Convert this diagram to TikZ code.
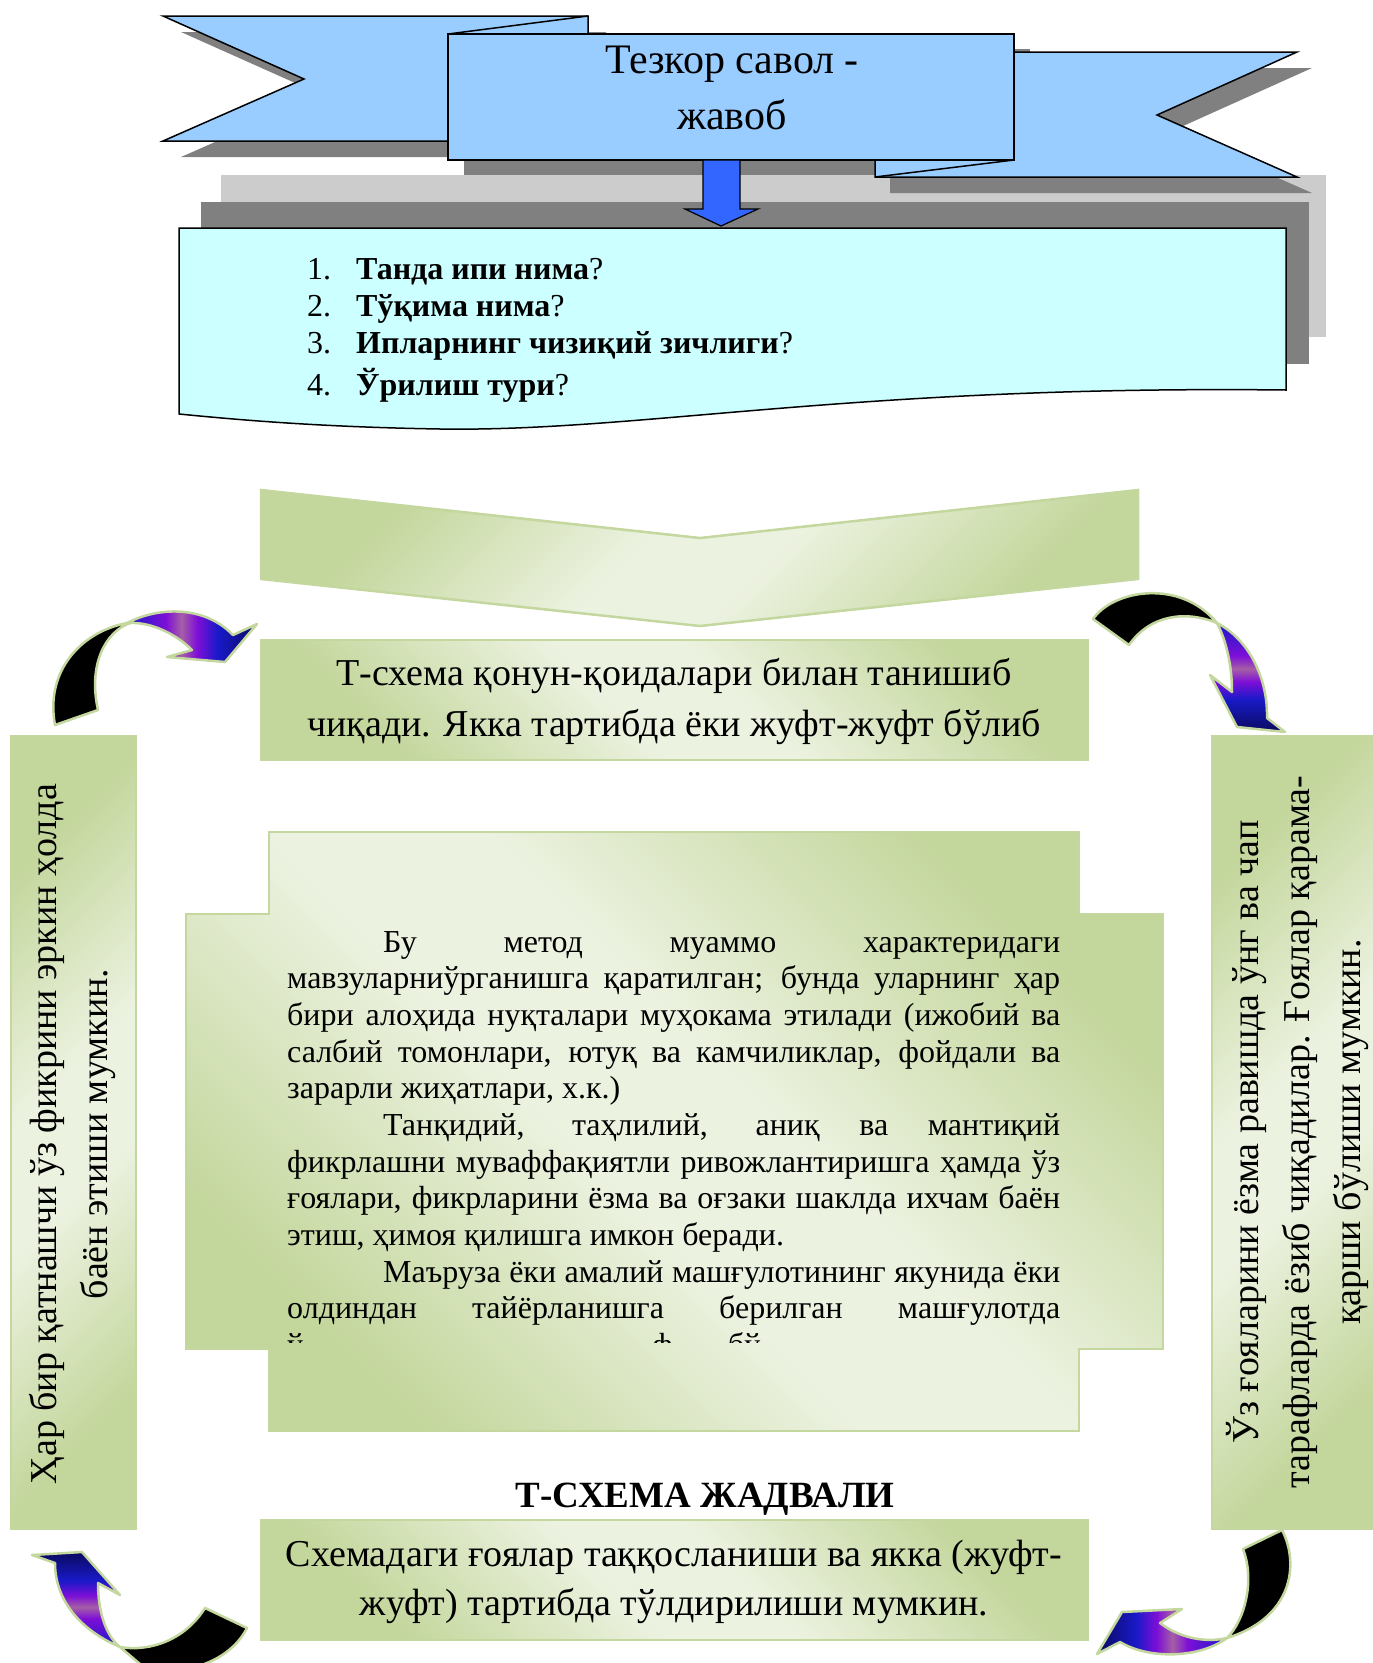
\documentclass[tikz,border=0pt]{standalone}
\usepackage{fontspec}
\setmainfont{Liberation Serif}
\definecolor{ribbon}{RGB}{153,204,255}
\definecolor{cyanbox}{RGB}{204,255,255}
\definecolor{arrowblue}{RGB}{51,102,255}
\definecolor{lgray}{RGB}{204,204,204}
\definecolor{dgray}{RGB}{128,128,128}
\definecolor{gdark}{RGB}{195,214,155}
\definecolor{glight}{RGB}{236,242,224}
\definecolor{gborder}{RGB}{196,215,158}
\definecolor{ablue}{RGB}{25,25,200}
\definecolor{apurple}{RGB}{125,15,215}
\definecolor{apink}{RGB}{165,95,165}
\definecolor{anavy}{RGB}{10,10,95}
\pgfdeclarehorizontalshading{greenrefl}{100bp}{color(0bp)=(gdark); color(25bp)=(gdark); color(45bp)=(glight); color(55bp)=(glight); color(75bp)=(gdark); color(100bp)=(gdark)}
\pgfdeclarehorizontalshading{arrowshade}{100bp}{color(0bp)=(ablue); color(25bp)=(ablue); color(40bp)=(apurple); color(46bp)=(apink); color(52bp)=(apurple); color(60bp)=(ablue); color(75bp)=(anavy); color(100bp)=(anavy)}
\newcommand{\fsbody}{\fontsize{32}{37}\selectfont}
\newcommand{\fsbox}{\fontsize{38}{50}\selectfont}
\newcommand{\fstitle}{\fontsize{42}{55}\selectfont}
\newcommand{\jl}[1]{\makebox[773pt][s]{#1}}
\newcommand{\jli}[1]{\makebox[677pt][s]{#1}}
\tikzset{
  greenbox/.style={shade, shading=greenrefl, draw=gborder, line width=2.5pt},
  ribbonpart/.style={fill=ribbon, draw=black, line width=1.5pt, line join=miter},
  shadowpart/.style={fill=dgray, draw=none},
  docbox/.style={fill=cyanbox, draw=black, line width=1.5pt},
  blockarrow/.style={fill=arrowblue, draw=black, line width=1.2pt},
  arrowback/.style={fill=black, draw=gborder, line width=2.5pt, line join=round},
  arrowfront/.style={shade, shading=arrowshade, draw=gborder, line width=2.5pt, line join=round},
  titletext/.style={anchor=base, inner sep=0pt, font=\fstitle},
  listtext/.style={anchor=base west, inner sep=0pt, font=\fsbody},
  bodyline/.style={anchor=base west, inner sep=0pt, font=\fsbody},
  boxline/.style={anchor=base, inner sep=0pt, font=\fsbox},
  sidetext/.style={rotate=90, align=center, inner sep=0pt, font=\fontsize{38}{51}\selectfont},
  headtext/.style={anchor=base, inner sep=0pt, font=\fontsize{37}{40}\selectfont\bfseries}
}
\begin{document}
\begin{tikzpicture}[x=1pt,y=-1pt]
\useasboundingbox (0,0) rectangle (1373,1663);
\clip (0,0) rectangle (1373,1663);
% ---------- top part ----------
\fill[lgray] (221,175) rectangle (1326,337);
\fill[dgray] (201,202) rectangle (1309,364);
\draw[docbox] (179,228) -- (1286,228) -- (1286,390) .. controls (850,385) and (640,432) .. (440,429) .. controls (320,427) and (240,420) .. (179,414) -- cycle;
\begin{scope}[shift={(18,16)}]
  \fill[shadowpart] (163,16)--(588,16)--(588,34)--(470,34)--(470,141)--(163,141)--(304,79)--cycle;
\end{scope}
\begin{scope}[shift={(15,16)}]
  \fill[shadowpart] (1000,52)--(1297,52)--(1157,115)--(1297,177)--(875,177)--(875,160)--(1000,160)--cycle;
\end{scope}
\begin{scope}[shift={(16,15)}]
  \fill[shadowpart] (448,34) rectangle (1014,160);
\end{scope}
\draw[ribbonpart] (163,16)--(588,16)--(588,34)--(470,34)--(470,141)--(163,141)--(304,79)--cycle;
\draw[ribbonpart] (1000,52)--(1297,52)--(1157,115)--(1297,177)--(875,177)--(875,160)--(1000,160)--cycle;
\draw[ribbonpart] (448,34) rectangle (1014,160);
\draw[black, line width=1.5pt] (448,34) -- (588,16);
\draw[black, line width=1.5pt] (875,177) -- (1014,160);
\node[titletext] (title1) at (732,73) {Тезкор савол -};
\node[titletext] (title2) at (732,129) {жавоб};
\draw[blockarrow] (703,160)--(740,160)--(740,209)--(758,209)--(721,226)--(685,209)--(703,209)--cycle;
% list
\node[listtext] (n1) at (307,279) {1.};
\node[listtext] (q1) at (356,279) {\textbf{Танда ипи нима}?};
\node[listtext] (n2) at (307,316) {2.};
\node[listtext] (q2) at (356,316) {\textbf{Тўқима нима}?};
\node[listtext] (n3) at (307,353) {3.};
\node[listtext] (q3) at (356,353) {\textbf{Ипларнинг чизиқий зичлиги}?};
\node[listtext] (n4) at (307,395) {4.};
\node[listtext] (q4) at (356,395) {\textbf{Ўрилиш тури}?};
% ---------- chevron ----------
\draw[greenbox, shading angle=-45] (261,490)--(700,538)--(1138,490)--(1138,579)--(700,626)--(261,579)--cycle;
% ---------- T-box ----------
\draw[greenbox, shading angle=45] (261,640) rectangle (1088,760);
\node[boxline] (tb1) at (674,685) {Т-схема қонун-қоидалари билан танишиб};
\node[boxline] (tb2) at (674,736) {чиқади. Якка тартибда ёки жуфт-жуфт бўлиб};
% ---------- cross ----------
\draw[greenbox, shading angle=45] (269,832)--(1079,832)--(1079,914)--(1163,914)--(1163,1349)--(1079,1349)--(1079,1431)--(269,1431)--(269,1349)--(186,1349)--(186,914)--(269,914)--cycle;
\node[bodyline] (b1) at (383,952) {\jli{Бу метод муаммо характеридаги}};
\node[bodyline] (b2) at (287,988.7) {\jl{мавзуларниўрганишга қаратилган; бунда уларнинг ҳар}};
\node[bodyline] (b3) at (287,1025.3) {\jl{бири алоҳида нуқталари муҳокама этилади (ижобий ва}};
\node[bodyline] (b4) at (287,1062) {\jl{салбий томонлари, ютуқ ва камчиликлар, фойдали ва}};
\node[bodyline] (b5) at (287,1098.6) {зарарли жиҳатлари, х.к.)};
\node[bodyline] (b6) at (383,1135.3) {\jli{Танқидий, таҳлилий, аниқ ва мантиқий}};
\node[bodyline] (b7) at (287,1172) {\jl{фикрлашни муваффақиятли ривожлантиришга ҳамда ўз}};
\node[bodyline] (b8) at (287,1208.6) {\jl{ғоялари, фикрларини ёзма ва оғзаки шаклда ихчам баён}};
\node[bodyline] (b9) at (287,1245.3) {этиш, ҳимоя қилишга имкон беради.};
\node[bodyline] (b10) at (383,1282) {\jli{Маъруза ёки амалий машғулотининг якунида ёки}};
\node[bodyline] (b11) at (287,1318.6) {\jl{олдиндан тайёрланишга берилган машғулотда}};
\begin{scope}
  \clip (186,1300) rectangle (1163,1342);
  \node[bodyline] (b12a) at (287,1355.3) {ў};
  \node[bodyline] (b12b) at (652,1355.3) {ф};
  \node[bodyline] (b12c) at (728,1355.3) {бў};
\end{scope}
% ---------- heading ----------
\node[headtext] (head) at (705,1507) {Т-СХЕМА ЖАДВАЛИ};
% ---------- bottom box ----------
\draw[greenbox, shading angle=45] (261,1520) rectangle (1088,1640);
\node[boxline] (bb1) at (674,1566) {Схемадаги ғоялар таққосланиши ва якка (жуфт-};
\node[boxline] (bb2) at (674,1615) {жуфт) тартибда тўлдирилиши мумкин.};
% ---------- side boxes ----------
\draw[greenbox, shading angle=-45] (11,736) rectangle (136,1529);
\node[sidetext] (lefttext) at (72,1134) {Ҳар бир қатнашчи ўз фикрини эркин ҳолда\\баён этиши мумкин.};
\draw[greenbox, shading angle=-45] (1212,736) rectangle (1380,1529);
\node[sidetext] (righttext) at (1297,1132) {Ўз ғояларини ёзма равишда ўнг ва чап\\тарафларда ёзиб чиқадилар. Ғоялар қарама-\\қарши бўлиши мумкин.};
% ---------- curved arrows ----------
% top-left
\draw[arrowback] (55,725) .. controls (45,672) and (80,632) .. (127,623) -- (130,623) .. controls (105,632) and (88,665) .. (98,710) -- cycle;
\draw[arrowfront, shading angle=0] (127,623) .. controls (160,606) and (205,606) .. (233,635) -- (257,624) -- (225,662) -- (167,657) -- (192,650) .. controls (175,633) and (150,622) .. (130,623) -- cycle;
% top-right
\draw[arrowback] (1093,619) .. controls (1113,590) and (1180,578) .. (1217,623) .. controls (1185,610) and (1150,615) .. (1129,645) -- cycle;
\draw[arrowfront, shading angle=-90] (1217,623) .. controls (1250,640) and (1268,680) .. (1267,718) -- (1285,732) -- (1237,727) -- (1210,675) -- (1232,692) .. controls (1232,665) and (1226,640) .. (1217,623) -- cycle;
% bottom-right
\draw[arrowback] (1243,1549) -- (1282,1530) .. controls (1300,1565) and (1292,1618) .. (1227,1638) .. controls (1245,1620) and (1255,1580) .. (1243,1549) -- cycle;
\draw[arrowfront, shading angle=180] (1227,1638) .. controls (1200,1658) and (1150,1660) .. (1120,1642) -- (1097,1654) -- (1122,1612) -- (1182,1609) -- (1160,1623) .. controls (1180,1638) and (1205,1643) .. (1227,1638) -- cycle;
% bottom-left
\draw[arrowback] (205,1608) -- (247,1628) .. controls (230,1662) and (180,1680) .. (140,1664) -- (120,1647) .. controls (150,1652) and (185,1640) .. (205,1608) -- cycle;
\draw[arrowfront, shading angle=90] (120,1647) .. controls (80,1630) and (55,1600) .. (55,1563) -- (32,1555) -- (82,1552) -- (120,1595) -- (98,1583) .. controls (98,1610) and (105,1635) .. (120,1647) -- cycle;
\end{tikzpicture}
\end{document}
